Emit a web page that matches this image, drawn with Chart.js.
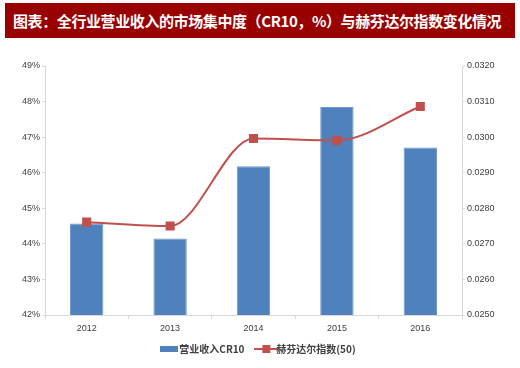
<!DOCTYPE html>
<html>
<head>
<meta charset="utf-8">
<script src="https://cdn.jsdelivr.net/npm/chart.js@4/dist/chart.umd.min.js"></script>
<style>
  html, body { margin: 0; padding: 0; background: #fff; }
  #wrap { position: relative; width: 520px; height: 368px; }
  #title {
    position: absolute; left: 5px; top: 3px; width: 510px; height: 35px;
    background: #990000; color: #fff; box-sizing: border-box;
    font: bold 15px "Noto Sans CJK SC", sans-serif; line-height: 35px;
    padding-left: 8px; white-space: nowrap; overflow: hidden; letter-spacing: -0.4px;
  }
  canvas { position: absolute; left: 0; top: 0; }
</style>
</head>
<body>
<div id="wrap">
  <canvas id="chart" width="520" height="368"></canvas>
  <div id="title">图表：全行业营业收入的市场集中度（CR10，%）与赫芬达尔指数变化情况</div>
</div>
<script>
// data
const years = ["2012", "2013", "2014", "2015", "2016"];
const cr10 = [44.57, 44.15, 46.18, 47.85, 46.71];        // %
const hhi = [0.02761, 0.02750, 0.02996, 0.02991, 0.03086];
const leftTicks = [42, 43, 44, 45, 46, 47, 48, 49];
const rightTicks = [0.025, 0.026, 0.027, 0.028, 0.029, 0.030, 0.031, 0.032];

const blue = "#4F81BD";
const red = "#C0504D";
const axisGrey = "#D9D9D9";
const tickFont = { family: "Liberation Sans, Arial", size: 9 };

// little legend icons
function barIcon() {
    const c = document.createElement("canvas");
    c.width = 18; c.height = 6;
    const g = c.getContext("2d");
    g.fillStyle = blue;
    g.fillRect(0, 0, 18, 6);
    return c;
}
function lineIcon() {
    const c = document.createElement("canvas");
    c.width = 24; c.height = 8;
    const g = c.getContext("2d");
    g.strokeStyle = red; g.lineWidth = 2;
    g.beginPath(); g.moveTo(0, 4); g.lineTo(24, 4); g.stroke();
    g.fillStyle = red;
    g.fillRect(8, 0, 8, 8);
    return c;
}

const ctx = document.getElementById("chart").getContext("2d");
new Chart(ctx, {
    data: {
        labels: years,
        datasets: [
            {
                type: "line",
                label: "赫芬达尔指数(50)",
                data: hhi,
                yAxisID: "yR",
                borderColor: red,
                backgroundColor: red,
                borderWidth: 2,
                pointStyle: "rect",
                pointRadius: 5,
                pointHoverRadius: 5,
                cubicInterpolationMode: "monotone",
                order: 1
            },
            {
                type: "bar",
                label: "营业收入CR10",
                data: cr10,
                yAxisID: "yL",
                backgroundColor: blue,
                borderColor: "#6C97CC",
                borderWidth: 1,
                barPercentage: 0.4,
                categoryPercentage: 1,
                order: 2
            }
        ]
    },
    options: {
        responsive: false,
        animation: false,
        layout: { padding: { top: 66, left: 0, right: 0, bottom: 4 } },
        plugins: {
            tooltip: { enabled: false },
            legend: {
                position: "bottom",
                labels: {
                    usePointStyle: true,
                    color: "#404040",
                    font: { family: "Noto Sans CJK SC", size: 10, weight: "bold" },
                    padding: 10,
                    generateLabels: function (chart) {
                        return [
                            { text: "营业收入CR10\u00a0\u00a0\u00a0", pointStyle: barIcon(), datasetIndex: 1, hidden: false, fontColor: "#404040" },
                            { text: "赫芬达尔指数(50)", pointStyle: lineIcon(), datasetIndex: 0, hidden: false, fontColor: "#404040" }
                        ];
                    }
                }
            }
        },
        scales: {
            x: {
                grid: { display: true, drawOnChartArea: false, offset: true, tickLength: 4, color: axisGrey },
                border: { color: axisGrey },
                ticks: { color: "#404040", font: tickFont, padding: 4 },
                afterFit: function (s) { s.height = 19; }
            },
            yL: {
                position: "left",
                min: 42, max: 49,
                afterBuildTicks: function (s) { s.ticks = leftTicks.map(v => ({ value: v })); },
                ticks: { color: "#404040", font: tickFont, padding: 2, callback: v => v + "%" },
                grid: { display: true, drawOnChartArea: false, tickLength: 3, color: axisGrey },
                border: { color: axisGrey },
                afterFit: function (s) { s.width = 45; }
            },
            yR: {
                position: "right",
                min: 0.025, max: 0.032,
                afterBuildTicks: function (s) { s.ticks = rightTicks.map(v => ({ value: v })); },
                ticks: { color: "#404040", font: tickFont, padding: 2, callback: v => v.toFixed(4) },
                grid: { display: true, drawOnChartArea: false, tickLength: 3, color: axisGrey },
                border: { color: axisGrey },
                afterFit: function (s) { s.width = 58; }
            }
        }
    }
});
</script>
</body>
</html>
